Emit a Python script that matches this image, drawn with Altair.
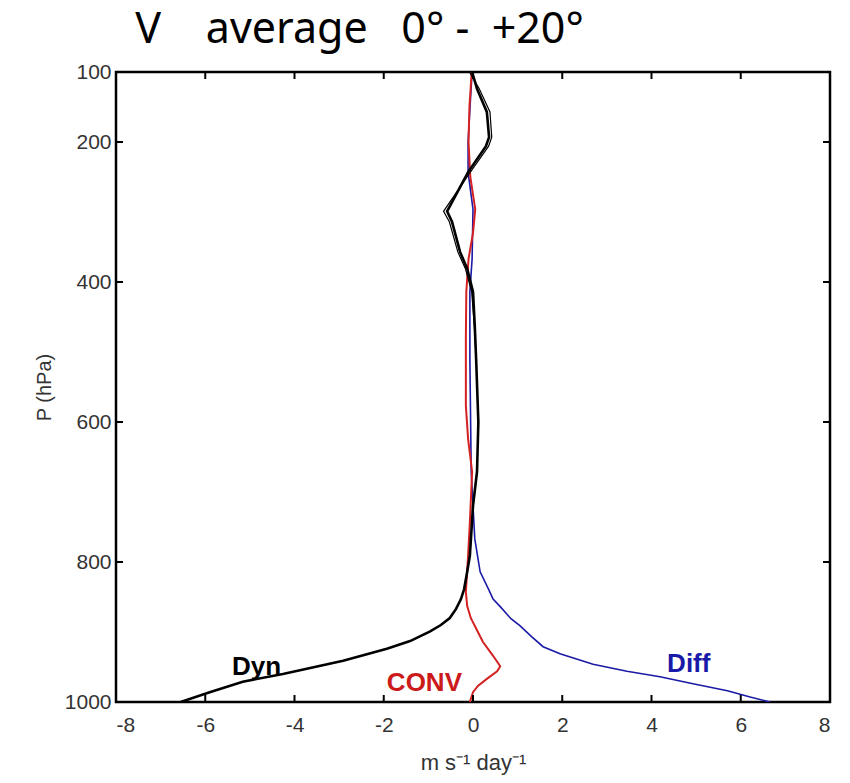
import altair as alt
import pandas as pd

# ---------------- data ----------------
dyn_p = [100, 124, 157, 193, 206, 243, 299, 314, 357, 381, 414, 463, 510, 600, 671, 720,
         791, 814, 839, 853, 867, 880, 890, 899, 913, 924, 941, 960, 971, 986, 1000]
dyn_x = [-0.02, 0.09, 0.31, 0.36, 0.29, -0.11, -0.58, -0.47, -0.29, -0.13, 0.0, 0.04, 0.07, 0.12, 0.09, 0.0,
         -0.07, -0.13, -0.2, -0.27, -0.38, -0.52, -0.72, -0.96, -1.41, -1.93, -2.91, -4.26, -5.16, -5.9, -6.55]

dyn2_p = [100, 124, 157, 193, 206, 243, 299, 314, 357, 381, 414, 463, 510]
dyn2_x = [-0.08, 0.14, 0.38, 0.42, 0.35, -0.06, -0.66, -0.53, -0.34, -0.17, -0.03, 0.03, 0.07]

diff_p = [100, 153, 200, 243, 296, 367, 414, 510, 671, 720, 767, 814, 839, 853, 863, 881,
          891, 906, 921, 931, 946, 956, 964, 974, 984, 993, 1000]
diff_x = [-0.02, -0.07, -0.11, -0.11, 0.0, -0.02, -0.07, -0.07, -0.04, 0.0, 0.04, 0.16, 0.35, 0.45, 0.6, 0.85,
          1.05, 1.3, 1.57, 1.95, 2.69, 3.45, 4.19, 4.93, 5.7, 6.21, 6.66]

conv_p = [100, 150, 200, 250, 296, 330, 367, 414, 481, 577, 624, 671, 743, 791, 843, 863,
          880, 895, 914, 934, 949, 956, 967, 977, 986, 1000]
conv_x = [-0.03, -0.08, -0.1, -0.06, 0.05, 0.0, -0.1, -0.15, -0.16, -0.16, -0.11, -0.02, -0.07, -0.11, -0.16, -0.13,
          -0.05, 0.07, 0.22, 0.45, 0.61, 0.54, 0.31, 0.11, 0.0, -0.07]

label_text = ["Dyn", "CONV", "Diff"]
label_x = [-5.4, -1.93, 4.35]
label_p = [961, 984, 957]

x_ticks = [-8, -6, -4, -2, 0, 2, 4, 6, 8]
p_ticks = [100, 200, 400, 600, 800, 1000]

NB = "\u00a0"
title_text = "V" + NB * 4 + "average" + NB * 3 + "0°" + NB + "-" + NB * 2 + "+20°"
x_title = "m s\u207b\u00b9 day\u207b\u00b9"
y_title = "P (hPa)"

# ---------------- build ----------------
W, H = 714, 630
AXIS_FONT = "Liberation Sans"
AXIS_COLOR = "#333333"

xs = alt.Scale(domain=[-8, 8], nice=False, zero=False)
ys = alt.Scale(domain=[100, 1000], reverse=True, nice=False, zero=False)

def series_df(xv, pv):
    return pd.DataFrame({"x": xv, "p": pv})

def line_layer(df, color, width):
    return alt.Chart(df).mark_line(color=color, strokeWidth=width, clip=True).encode(
        x=alt.X("x:Q", scale=xs,
                axis=alt.Axis(values=x_ticks, title=x_title, ticks=False, tickSize=0, domain=False,
                              grid=False, labelFont=AXIS_FONT, labelFontSize=21, labelColor=AXIS_COLOR,
                              labelExpr="'' + datum.value",
                              labelPadding=12, titleFont=AXIS_FONT, titleFontSize=22,
                              titleFontWeight="normal", titleColor=AXIS_COLOR, titlePadding=17)),
        y=alt.Y("p:Q", scale=ys,
                axis=alt.Axis(values=p_ticks, title=y_title, ticks=False, tickSize=0, domain=False,
                              grid=False, labelFont=AXIS_FONT, labelFontSize=21, labelColor=AXIS_COLOR,
                              labelExpr="'' + datum.value",
                              labelPadding=5, titleFont=AXIS_FONT, titleFontSize=20,
                              titleFontWeight="normal", titleColor=AXIS_COLOR, titlePadding=10)),
        order="p:Q",
    )

blue = line_layer(series_df(diff_x, diff_p), "#1a1aa6", 1.6)
red = line_layer(series_df(conv_x, conv_p), "#d42222", 2.0)
black2 = line_layer(series_df(dyn2_x, dyn2_p), "#000000", 1.2)
black = line_layer(series_df(dyn_x, dyn_p), "#000000", 2.6)

labels_df = pd.DataFrame({"label": label_text, "x": label_x, "p": label_p})
labels = alt.Chart(labels_df).mark_text(
    align="left", baseline="alphabetic", font=AXIS_FONT, fontSize=26, fontWeight="bold"
).encode(
    x=alt.X("x:Q", scale=xs),
    y=alt.Y("p:Q", scale=ys),
    text="label:N",
    color=alt.Color("label:N", scale=alt.Scale(domain=label_text,
                                               range=["#000000", "#cc1a1a", "#1a1aa8"]), legend=None),
)

xt = pd.DataFrame({"x": x_ticks})
pt = pd.DataFrame({"p": p_ticks})
tick_len = 7
bottom_ticks = alt.Chart(xt).mark_rule(color="black", strokeWidth=2).encode(
    x=alt.X("x:Q", scale=xs), y=alt.value(H), y2=alt.value(H - tick_len))
top_ticks = alt.Chart(xt).mark_rule(color="black", strokeWidth=2).encode(
    x=alt.X("x:Q", scale=xs), y=alt.value(0), y2=alt.value(tick_len))
left_ticks = alt.Chart(pt).mark_rule(color="black", strokeWidth=2).encode(
    y=alt.Y("p:Q", scale=ys), x=alt.value(0), x2=alt.value(tick_len))
right_ticks = alt.Chart(pt).mark_rule(color="black", strokeWidth=2).encode(
    y=alt.Y("p:Q", scale=ys), x=alt.value(W), x2=alt.value(W - tick_len))

chart = alt.layer(
    blue, red, black2, black, labels, bottom_ticks, top_ticks, left_ticks, right_ticks
).properties(
    width=W, height=H,
    title=alt.TitleParams(title_text, anchor="start", dx=101, dy=42, fontSize=43, font="Noto Sans",
                          fontWeight="normal", color="black", baseline="alphabetic", offset=17),
    padding={"left": 116, "top": 72, "right": 20, "bottom": 81},
    autosize=alt.AutoSizeParams(type="none"),
).configure_view(stroke="black", strokeWidth=2.5)

chart.save("out.html", embed_options={"renderer": "svg", "actions": False})
